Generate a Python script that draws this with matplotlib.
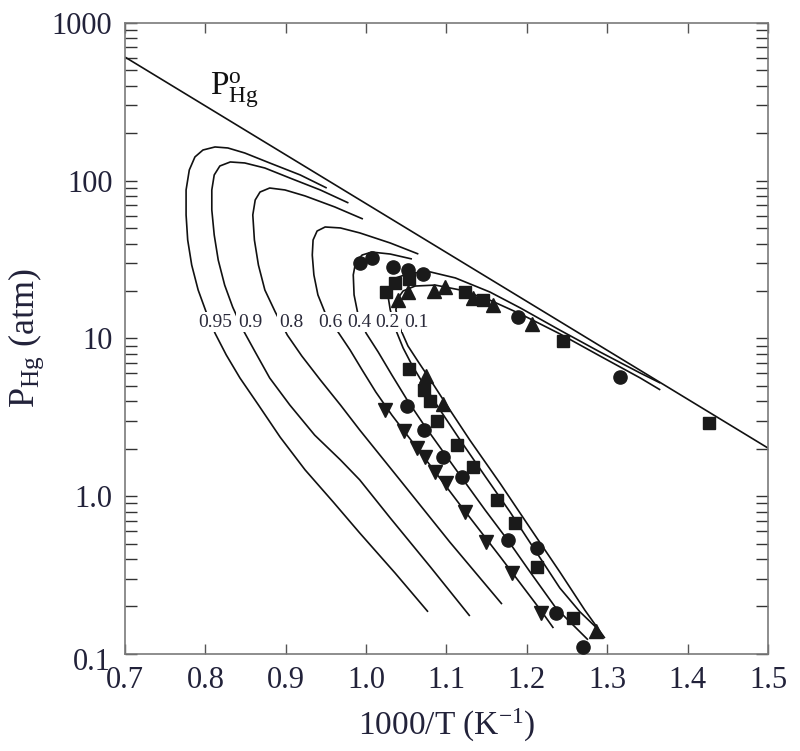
import numpy as np
import matplotlib
matplotlib.use("Agg")
import matplotlib.pyplot as plt
from matplotlib.ticker import LogLocator, NullFormatter

plt.rcParams['font.family'] = ['Liberation Serif', 'DejaVu Serif']
plt.rcParams['mathtext.fontset'] = 'custom'
plt.rcParams['mathtext.rm'] = 'Liberation Serif'
plt.rcParams['mathtext.it'] = 'Liberation Serif:italic'

# pure Hg vapour pressure line
p0_x = [0.7, 1.5]
p0_p = [608, 2.02]

# calculated partial pressure curves, label -> (1000/T, P_Hg)
curve_labels = ['0.95', '0.9', '0.8', '0.6', '0.4', '0.2', '0.1']
curve_95_x = [0.951, 0.918, 0.880, 0.849, 0.828, 0.812, 0.797, 0.787, 0.780, 0.776, 0.776, 0.778, 0.783,
              0.791, 0.801, 0.812, 0.826, 0.843, 0.866, 0.893, 0.924, 0.959, 0.992, 1.036, 1.077]
curve_95_p = [89.9, 108.8, 129.6, 149.9, 161.3, 163.7, 156.6, 141.5, 117.0, 87.4, 60.7, 42.1, 29.2,
              20.3, 14.7, 10.8, 7.86, 5.62, 3.79, 2.37, 1.47, 0.92, 0.585, 0.326, 0.185]
curve_90_x = [0.978, 0.943, 0.905, 0.874, 0.849, 0.831, 0.818, 0.811, 0.808, 0.808, 0.811, 0.816, 0.824,
              0.834, 0.847, 0.862, 0.880, 0.905, 0.936, 0.968, 0.992, 1.030, 1.080, 1.129]
curve_90_p = [72.3, 87.4, 104.1, 120.4, 129.6, 131.5, 124.0, 108.8, 87.4, 65.3, 45.3, 31.4, 21.8,
              15.8, 11.3, 8.21, 5.62, 3.79, 2.44, 1.70, 1.27, 0.728, 0.356, 0.174]
curve_80_x = [0.996, 0.961, 0.924, 0.899, 0.880, 0.868, 0.862, 0.859, 0.861, 0.866, 0.874, 0.887, 0.902,
              0.920, 0.943, 0.968, 0.992, 1.042, 1.104, 1.169]
curve_80_p = [57.2, 68.2, 80.1, 87.4, 89.9, 84.8, 75.5, 60.7, 42.1, 29.2, 20.3, 14.7, 10.5,
              7.74, 5.46, 3.79, 2.63, 1.27, 0.513, 0.207]
curve_60_x = [1.065, 1.030, 0.992, 0.968, 0.949, 0.939, 0.934, 0.933, 0.935, 0.940, 0.950, 0.965, 0.980,
              0.995, 1.012, 1.032, 1.067, 1.117, 1.167, 1.218, 1.233]
curve_60_p = [34.3, 40.3, 46.7, 50.2, 50.9, 48.0, 42.1, 33.8, 25.3, 18.9, 14.1, 11.0, 8.46,
              6.32, 4.58, 3.27, 1.91, 0.880, 0.412, 0.187, 0.146]
curve_40_x = [1.057, 1.030, 1.007, 0.995, 0.987, 0.984, 0.985, 0.990, 1.000, 1.015, 1.032, 1.051, 1.072,
              1.096, 1.119, 1.148, 1.177, 1.204, 1.236, 1.276]
curve_40_p = [31.9, 34.3, 35.3, 33.8, 30.5, 25.3, 18.9, 14.1, 10.8, 8.21, 5.87, 4.08, 2.83,
              1.91, 1.31, 0.818, 0.520, 0.331, 0.196, 0.123]
curve_20_x = [1.366, 1.341, 1.291, 1.241, 1.192, 1.154, 1.111, 1.080, 1.055, 1.037, 1.030, 1.027, 1.030,
              1.037, 1.046, 1.057, 1.072, 1.092, 1.117, 1.148, 1.179, 1.210, 1.241, 1.266, 1.287]
curve_20_p = [5.22, 6.04, 8.21, 11.3, 15.6, 19.7, 24.2, 26.4, 26.0, 24.2, 21.8, 18.9, 15.2,
              11.3, 8.71, 6.79, 5.07, 3.52, 2.27, 1.34, 0.795, 0.456, 0.262, 0.185, 0.146]
curve_10_x = [1.366, 1.341, 1.291, 1.241, 1.192, 1.154, 1.117, 1.086, 1.061, 1.046, 1.040, 1.037, 1.042,
              1.052, 1.065, 1.080, 1.101, 1.129, 1.167, 1.204, 1.241, 1.272, 1.297]
curve_10_p = [4.72, 5.62, 7.74, 10.7, 14.3, 17.5, 20.3, 21.8, 21.5, 20.0, 18.1, 15.2, 11.7,
              8.97, 7.10, 5.46, 3.73, 2.27, 1.20, 0.629, 0.331, 0.190, 0.126]

# label anchor positions (1000/T) along the label row
label_x = [0.812, 0.8555, 0.9065, 0.955, 0.9915, 1.026, 1.062]
label_p = 12.7

# experimental points
circ_x = [0.992, 1.007, 1.033, 1.052, 1.071, 1.189, 1.316, 1.051, 1.072, 1.096, 1.119, 1.177, 1.213, 1.236, 1.270]
circ_p = [30.1, 32.4, 28.4, 27.2, 25.6, 13.7, 5.70, 3.73, 2.63, 1.77, 1.32, 0.528, 0.470, 0.182, 0.111]
sq_x = [1.025, 1.036, 1.053, 1.123, 1.145, 1.245, 1.427, 1.053, 1.072, 1.080, 1.088, 1.113, 1.133, 1.163,
        1.185, 1.213, 1.257]
sq_p = [19.7, 22.5, 23.8, 19.7, 17.5, 9.64, 2.91, 6.41, 4.72, 4.02, 3.00, 2.11, 1.53, 0.947,
        0.677, 0.356, 0.169]
tri_up_x = [1.040, 1.052, 1.085, 1.098, 1.133, 1.158, 1.206, 1.075, 1.096, 1.286]
tri_up_p = [17.5, 19.7, 20.0, 21.2, 18.1, 16.3, 12.4, 5.79, 3.84, 0.140]
tri_dn_x = [1.024, 1.047, 1.063, 1.073, 1.086, 1.099, 1.123, 1.149, 1.182, 1.218]
tri_dn_p = [3.52, 2.59, 2.02, 1.77, 1.42, 1.21, 0.795, 0.513, 0.326, 0.182]

curves = [(curve_95_x, curve_95_p), (curve_90_x, curve_90_p), (curve_80_x, curve_80_p),
          (curve_60_x, curve_60_p), (curve_40_x, curve_40_p), (curve_20_x, curve_20_p),
          (curve_10_x, curve_10_p)]

fig = plt.figure(figsize=(8, 7.51), dpi=100)
ax = fig.add_axes([0.15625, 0.1292, 0.80375, 0.8402])

line_kw = dict(color='#111111', lw=1.2, solid_capstyle='butt', zorder=2)
ax.plot(p0_x, p0_p, **line_kw)
for cx, cp in curves:
    ax.plot(cx, cp, **line_kw)

for lab, lx in zip(curve_labels, label_x):
    ax.text(lx, label_p, lab, ha='center', va='center', fontsize=14, color='#2a2a3a', zorder=3,
            bbox=dict(facecolor='white', edgecolor='none', pad=1.0))

mk = dict(linestyle='none', color='#1a1a1a', zorder=4)
ax.plot(circ_x, circ_p, marker='o', markersize=9.5, **mk)
ax.plot(sq_x, sq_p, marker='s', markersize=8.5, **mk)
ax.plot(tri_up_x, tri_up_p, marker='^', markersize=10, **mk)
ax.plot(tri_dn_x, tri_dn_p, marker='v', markersize=10, **mk)

ax.text(0.806, 376, r'$\mathrm{P^{o}_{Hg}}$', fontsize=24, color='#111111', ha='left', va='center')

ax.set_yscale('log')
ax.set_xlim(0.7, 1.5)
ax.set_ylim(0.1, 1000)
ax.set_xticks(np.arange(0.7, 1.501, 0.1))
ax.set_xticklabels(['0.7', '0.8', '0.9', '1.0', '1.1', '1.2', '1.3', '1.4', '1.5'])
ax.set_yticks([0.1, 1, 10, 100, 1000])
ax.set_yticklabels(['', '1.0', '10', '100', '1000'])
ax.yaxis.set_minor_locator(LogLocator(base=10, subs=np.arange(2, 10), numticks=20))
ax.yaxis.set_minor_formatter(NullFormatter())
ax.annotate('0.1', xy=(0, 0.1), xycoords=('axes fraction', 'data'), xytext=(-10, -6),
            textcoords='offset points', ha='right', va='center', fontsize=22, color='#22223a')

ax.tick_params(axis='x', which='major', direction='in', length=7, width=1.0, top=True, bottom=True,
               labelsize=22, pad=9, color='#555555', labelcolor='#22223a')
ax.tick_params(axis='y', which='both', direction='in', length=8.5, width=1.0, left=True, right=True,
               labelsize=22, pad=9, color='#333333', labelcolor='#22223a')

for s in ax.spines.values():
    s.set_color('#7a7a7a')
    s.set_linewidth(1.2)

ax.set_xlabel(r'1000/T (K$^{-1}$)', fontsize=24, color='#22223a', labelpad=8)
ax.set_ylabel(r'$\mathrm{P_{Hg}}$ (atm)', fontsize=26, color='#22223a', labelpad=4)

fig.savefig('out.png', dpi=100)
